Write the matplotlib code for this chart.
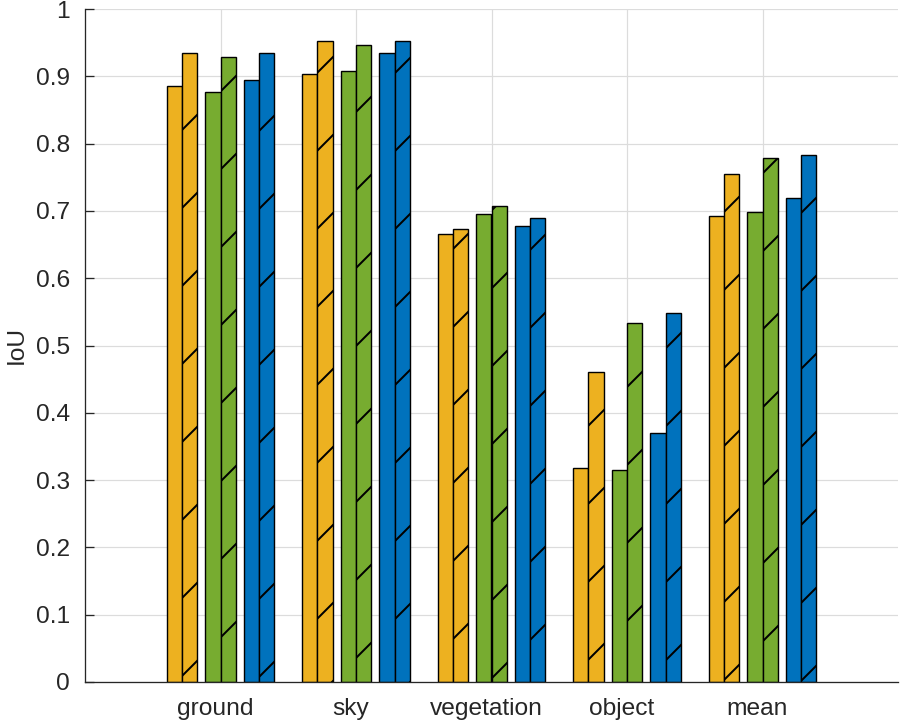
import matplotlib
matplotlib.use("Agg")
import matplotlib.pyplot as plt
import matplotlib.transforms as mtransforms
import numpy as np

categories = ['ground', 'sky', 'vegetation', 'object', 'mean']
orange_plain = [0.885, 0.904, 0.665, 0.318, 0.692]
orange_hatch = [0.934, 0.953, 0.673, 0.460, 0.755]
green_plain = [0.877, 0.908, 0.695, 0.315, 0.699]
green_hatch = [0.928, 0.947, 0.708, 0.534, 0.779]
blue_plain = [0.895, 0.934, 0.677, 0.370, 0.719]
blue_hatch = [0.935, 0.953, 0.690, 0.548, 0.783]
yticks = [0, 0.1, 0.2, 0.3, 0.4, 0.5, 0.6, 0.7, 0.8, 0.9, 1]
ytick_labels = ['0', '0.1', '0.2', '0.3', '0.4', '0.5', '0.6', '0.7', '0.8', '0.9', '1']

DPI = 234
def px(v):
    return v * 72.0 / DPI

plt.rcParams['font.family'] = ['Liberation Sans', 'DejaVu Sans']
plt.rcParams['hatch.linewidth'] = px(2.0)
plt.rcParams['hatch.color'] = 'black'

fig = plt.figure(figsize=(900 / DPI, 723 / DPI), dpi=DPI)
ax = fig.add_axes([85 / 900, 41 / 723, 813 / 900, 673 / 723])

x = np.arange(1, len(categories) + 1)
w = 0.113
pair_off = [-0.285, 0.0, 0.285]
colors = ['#EDB120', '#77AC30', '#0072BD']
plains = [orange_plain, green_plain, blue_plain]
hatched = [orange_hatch, green_hatch, blue_hatch]

for off, c, p, h in zip(pair_off, colors, plains, hatched):
    ax.bar(x + off - w / 2, p, width=w, color=c, edgecolor='black',
           linewidth=px(1.4), zorder=2)
    ax.bar(x + off + w / 2, h, width=w, color=c, edgecolor='black',
           linewidth=px(1.4), hatch='/', zorder=2)

ax.set_xlim(0, 6)
ax.set_ylim(0, 1)
ax.set_xticks(x)
ax.set_xticklabels(categories)
ax.set_yticks(yticks)
ax.set_yticklabels(ytick_labels)

ax.set_axisbelow(True)
ax.grid(True, color='#dcdcdc', linewidth=px(1.2))

for s in ['top', 'right']:
    ax.spines[s].set_visible(False)
for s in ['left', 'bottom']:
    ax.spines[s].set_color('#262626')
    ax.spines[s].set_linewidth(px(1.3))

fs = px(24.5)
ax.tick_params(axis='y', direction='in', length=px(9), width=px(1.3),
               colors='#262626', labelsize=fs, pad=px(15))
ax.tick_params(axis='x', length=0, colors='#262626', labelsize=fs, pad=px(16))

shift = mtransforms.ScaledTranslation(-5 / DPI, 0, fig.dpi_scale_trans)
for lab in ax.get_xticklabels():
    lab.set_transform(lab.get_transform() + shift)

ax.set_ylabel('IoU', fontsize=fs, color='#262626')
ax.yaxis.set_label_coords((28 - 85) / 813, 0.5)

fig.savefig('out.png', dpi=DPI)
